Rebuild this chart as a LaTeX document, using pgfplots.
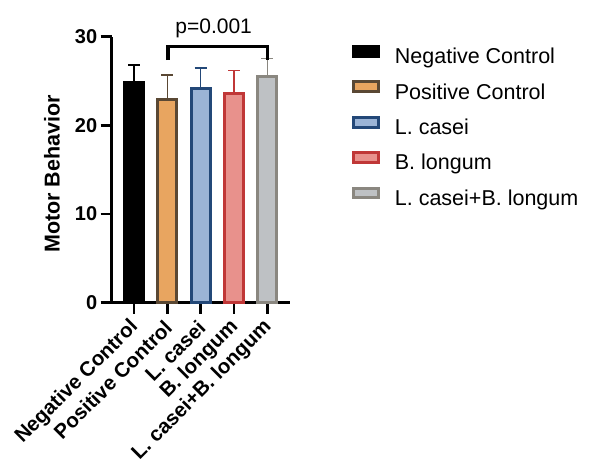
\documentclass[border=0pt]{standalone}
\usepackage{fontspec}
\setmainfont{Liberation Sans}
\usepackage{pgfplots}
\pgfplotsset{compat=1.18}
\definecolor{ncfill}{RGB}{0,0,0}
\definecolor{pcfill}{RGB}{232,165,96}
\definecolor{pcline}{RGB}{90,72,52}
\definecolor{lcfill}{RGB}{155,180,214}
\definecolor{lcline}{RGB}{35,72,120}
\definecolor{blfill}{RGB}{232,145,140}
\definecolor{blline}{RGB}{192,55,55}
\definecolor{cbfill}{RGB}{190,193,196}
\definecolor{cbline}{RGB}{138,135,128}
\pgfplotsset{
  mybar/.style={ybar, bar width=19pt, bar shift=0pt, line width=3pt,
    fill=#1fill, draw=#1line,
    legend image code/.code={\draw[fill=#1fill, draw=#1line, line width=3pt] (0pt,2.4pt) rectangle (25pt,12.3pt);},
    error bars/.cd, y dir=plus, y explicit,
    error bar style={line width=1.6pt, #1line},
    error mark options={rotate=90, mark size=6pt, line width=1.6pt, #1line}},
}
\colorlet{ncline}{black}
\begin{document}
\begin{tikzpicture}
\useasboundingbox (0,0) rectangle (589pt,462pt);
\begin{axis}[
  scale only axis, width=178.3pt, height=266pt,
  at={(111.7pt,159.3pt)}, anchor=south west,
  xmin=-0.67, xmax=4.68, ymin=0, ymax=30,
  axis lines*=left,
  axis line style={line width=3pt, black},
  major tick style={line width=2.8pt, black},
  major tick length=11pt, tick align=outside,
  xtick={0,1,2,3,4},
  xticklabels={Negative Control, Positive Control, L. casei, B. longum, L. casei+B. longum},
  ytick={0,10,20,30},
  /pgf/number format/assume math mode=true,
  ticklabel style={font=\bfseries\fontsize{20pt}{24pt}\selectfont},
  xticklabel style={yshift=-8pt, xshift=3.5pt, rotate=45, anchor=east, font=\bfseries\fontsize{20.5pt}{24pt}\selectfont},
  ylabel={Motor Behavior},
  ylabel style={font=\bfseries\fontsize{21.5pt}{24pt}\selectfont, at={(axis description cs:-0.335,0.484)}, anchor=center},
  clip=false,
  legend style={at={(axis description cs:1.3505,0.969)}, anchor=north west, draw=none, fill=none,
    inner sep=0pt, outer sep=0pt, row sep=11.6pt, column sep=14.4pt,
    nodes={inner sep=0pt, outer sep=0pt, text height=15pt, text depth=5pt},
    font=\fontsize{21.5pt}{24pt}\selectfont},
  legend cell align=left,
]
\addplot[mybar=nc] coordinates {(0,24.85) +- (0,1.95)};
\addlegendentry{Negative Control}
\addplot[mybar=pc] coordinates {(1,22.9) +- (0,2.8)};
\addlegendentry{Positive Control}
\addplot[mybar=lc] coordinates {(2,24.2) +- (0,2.3)};
\addlegendentry{L. casei}
\addplot[mybar=bl] coordinates {(3,23.55) +- (0,2.65)};
\addlegendentry{B. longum}
\addplot[mybar=cb] coordinates {(4,25.5) +- (0,2.05)};
\addlegendentry{L. casei+B. longum}
\draw[line width=3.5pt] (axis cs:1.02,27.37) -- (axis cs:1.02,28.9) -- (axis cs:4.0,28.9) -- (axis cs:4.0,27.37);
\node[anchor=base, font=\fontsize{21pt}{24pt}\selectfont, inner sep=0pt] at (axis cs:2.39,30.38) {p=0.001};
\end{axis}
\end{tikzpicture}
\end{document}
